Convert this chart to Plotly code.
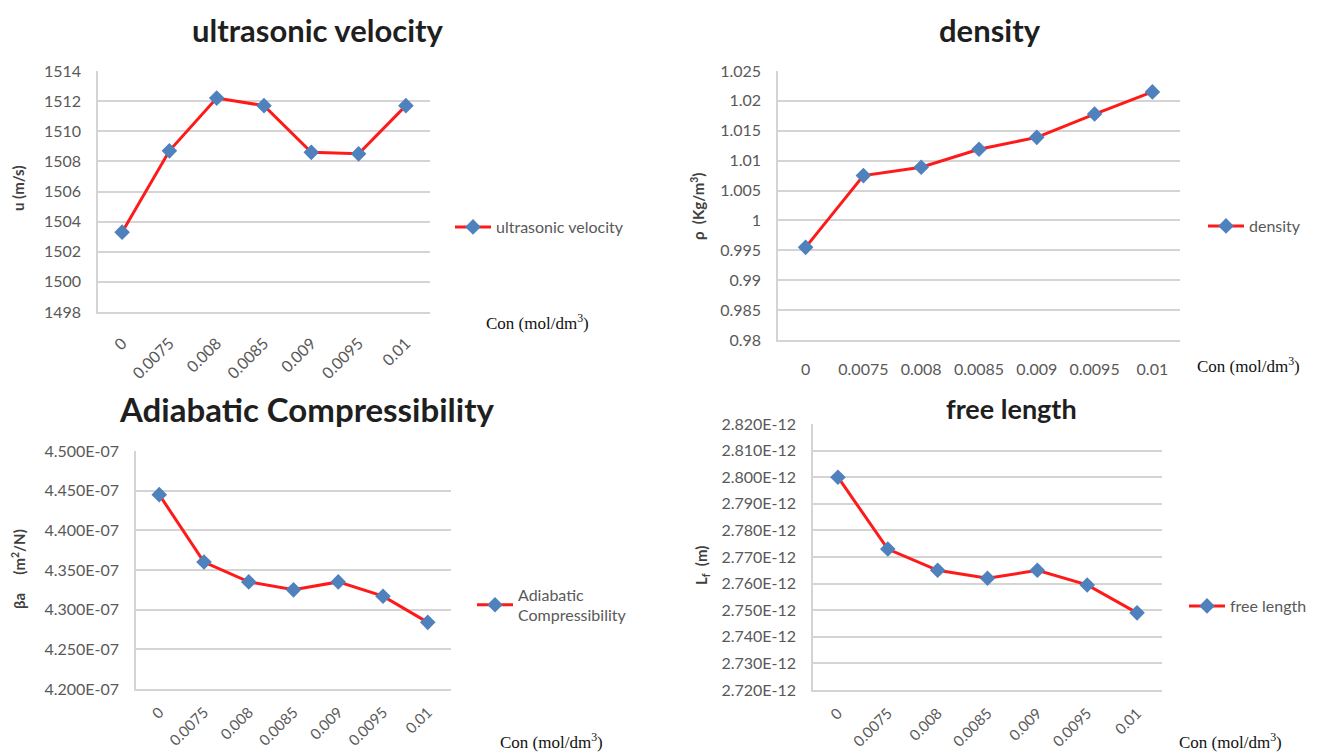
import plotly.graph_objects as go

categories = ["0", "0.0075", "0.008", "0.0085", "0.009", "0.0095", "0.01"]

velocity = [1503.3, 1508.7, 1512.2, 1511.7, 1508.6, 1508.5, 1511.7]
density = [0.9955, 1.0075, 1.0089, 1.0119, 1.0139, 1.0178, 1.0215]
compressibility = [4.445e-7, 4.360e-7, 4.335e-7, 4.325e-7, 4.335e-7, 4.317e-7, 4.284e-7]
free_length = [2.800e-12, 2.773e-12, 2.765e-12, 2.762e-12, 2.765e-12, 2.7595e-12, 2.749e-12]

vel_ticks = [1498, 1500, 1502, 1504, 1506, 1508, 1510, 1512, 1514]
vel_ticktext = ["1498", "1500", "1502", "1504", "1506", "1508", "1510", "1512", "1514"]
den_ticks = [0.98, 0.985, 0.99, 0.995, 1.0, 1.005, 1.01, 1.015, 1.02, 1.025]
den_ticktext = ["0.98", "0.985", "0.99", "0.995", "1", "1.005", "1.01", "1.015", "1.02", "1.025"]
comp_ticks = [4.20e-7, 4.25e-7, 4.30e-7, 4.35e-7, 4.40e-7, 4.45e-7, 4.50e-7]
comp_ticktext = ["4.200E-07", "4.250E-07", "4.300E-07", "4.350E-07", "4.400E-07", "4.450E-07", "4.500E-07"]
fl_ticks = [2.72e-12, 2.73e-12, 2.74e-12, 2.75e-12, 2.76e-12, 2.77e-12, 2.78e-12, 2.79e-12, 2.80e-12, 2.81e-12, 2.82e-12]
fl_ticktext = ["2.720E-12", "2.730E-12", "2.740E-12", "2.750E-12", "2.760E-12", "2.770E-12",
               "2.780E-12", "2.790E-12", "2.800E-12", "2.810E-12", "2.820E-12"]

W, H = 1317, 755
LINE = "#ff1a1a"
MARK = "#4f81bd"
GRID = "#d4d4d4"
TICKC = "#595959"
FONT = "Lato"
TICKSIZE = 16

def px_x(x):
    return x / W

def px_y(y):
    return 1 - y / H

fig = go.Figure()

series = [
    ("ultrasonic velocity", velocity, "x", "y", "legend"),
    ("density", density, "x2", "y2", "legend2"),
    ("Adiabatic<br>Compressibility", compressibility, "x3", "y3", "legend3"),
    ("free length", free_length, "x4", "y4", "legend4"),
]
for name, vals, xa, ya, lg in series:
    fig.add_trace(go.Scatter(
        x=categories, y=vals, name=name, xaxis=xa, yaxis=ya, legend=lg,
        mode="lines+markers", showlegend=True,
        line=dict(color=LINE, width=3),
        marker=dict(symbol="diamond", size=12, color=MARK),
    ))

def xaxis(dom, anchor, angle, standoff=14, size=TICKSIZE):
    return dict(domain=dom, anchor=anchor, type="category", showgrid=False,
                showline=True, linecolor=GRID, linewidth=1.5, ticks="",
                tickangle=angle, ticklabelstandoff=standoff, automargin=False,
                tickfont=dict(family=FONT, size=size, color=TICKC),
                fixedrange=True)

def yaxis(dom, anchor, rng, tv, tt):
    return dict(domain=dom, anchor=anchor, range=rng, tickvals=tv, ticktext=tt,
                showgrid=True, gridcolor=GRID, gridwidth=1.5, zeroline=False,
                showline=True, linecolor=GRID, linewidth=1.5, ticks="",
                ticklabelstandoff=12, automargin=False,
                tickfont=dict(family=FONT, size=TICKSIZE, color=TICKC), fixedrange=True)

d1x = [px_x(98), px_x(430)];  d1y = [px_y(312), px_y(71)]
d2x = [px_x(778), px_x(1180)]; d2y = [px_y(340), px_y(71)]
d3x = [px_x(136), px_x(451)]; d3y = [px_y(689), px_y(451)]
d4x = [px_x(813), px_x(1162)]; d4y = [px_y(690), px_y(424)]

fig.update_layout(
    width=W, height=H, autosize=False,
    margin=dict(l=0, r=0, t=0, b=0, autoexpand=False),
    paper_bgcolor="white", plot_bgcolor="white",
    xaxis=xaxis(d1x, "y", -45),
    yaxis=yaxis(d1y, "x", [1498, 1514], vel_ticks, vel_ticktext),
    xaxis2=xaxis(d2x, "y2", 0),
    yaxis2=yaxis(d2y, "x2", [0.98, 1.025], den_ticks, den_ticktext),
    xaxis3=xaxis(d3x, "y3", -45, standoff=7, size=15),
    yaxis3=yaxis(d3y, "x3", [4.2e-7, 4.5e-7], comp_ticks, comp_ticktext),
    xaxis4=xaxis(d4x, "y4", -45, standoff=7, size=15),
    yaxis4=yaxis(d4y, "x4", [2.72e-12, 2.82e-12], fl_ticks, fl_ticktext),
)

def legend(x, y):
    return dict(x=px_x(x), y=px_y(y), xanchor="left", yanchor="middle",
                bgcolor="rgba(0,0,0,0)", itemwidth=36, tracegroupgap=0,
                font=dict(family=FONT, size=16, color=TICKC))

fig.update_layout(
    legend=legend(450, 227),
    legend2=legend(1203, 226),
    legend3=legend(472, 605),
    legend4=legend(1184, 606),
)

annotations = []
titles = [
    ("ultrasonic velocity", 318, 30, 31),
    ("density", 990, 30, 31),
    ("Adiabatic Compressibility", 306, 409, 33),
    ("free length", 1011, 409, 27),
]
for t, x, y, s in titles:
    annotations.append(dict(text="<b>" + t + "</b>", x=px_x(x), y=px_y(y), xref="paper", yref="paper",
                            xanchor="center", yanchor="middle", showarrow=False,
                            font=dict(family=FONT, size=s, color="#1f1f1f")))

xtitles = [(537, 322), (1248, 365), (551, 741), (1230, 741)]
for x, y in xtitles:
    annotations.append(dict(text="Con (mol/dm<sup>3</sup>)", x=px_x(x), y=px_y(y), xref="paper", yref="paper",
                            xanchor="center", yanchor="middle", showarrow=False,
                            font=dict(family="Liberation Serif", size=17, color="#111111")))

ytitles = [
    ("<b>u (m/s)</b>", 18, 188),
    ("<b>ρ  (Kg/m<sup>3</sup>)</b>", 698, 207),
    ("<b>βa     (m<sup>2</sup>/N)</b>", 18, 569),
    ("<b>L<sub>f</sub>  (m)</b>", 702, 566),
]
for t, x, y in ytitles:
    annotations.append(dict(text=t, x=px_x(x), y=px_y(y), xref="paper", yref="paper",
                            xanchor="center", yanchor="middle", showarrow=False, textangle=-90,
                            font=dict(family=FONT, size=15, color="#404040")))

fig.update_layout(annotations=annotations)

fig.write_html("out.html")
